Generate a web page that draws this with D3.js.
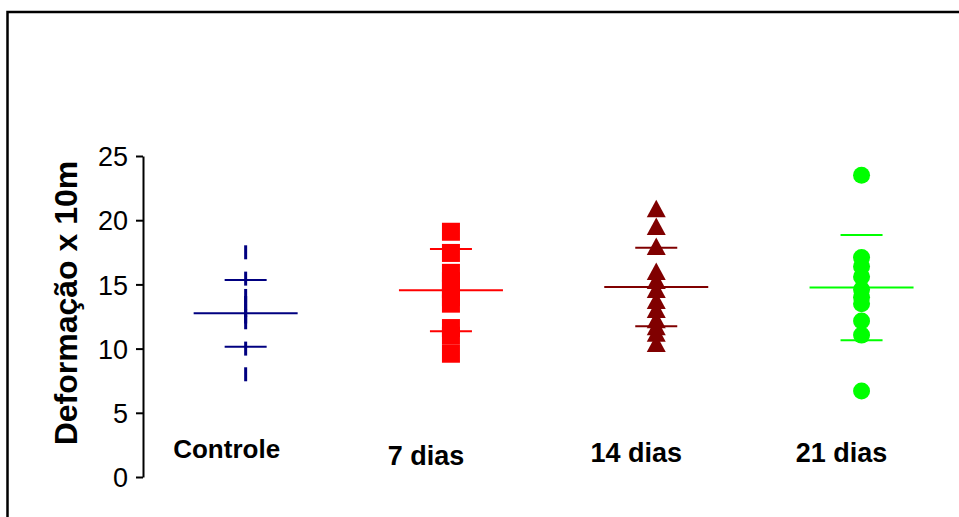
<!DOCTYPE html>
<html>
<head>
<meta charset="utf-8">
<script src="https://cdn.jsdelivr.net/npm/d3@7"></script>
<style>
  html, body { margin: 0; padding: 0; background: #fff; }
  svg { display: block; font-family: "Liberation Sans", Arial, sans-serif; }
</style>
</head>
<body>
<svg id="chart" width="959" height="517"></svg>
<script>
// Groups and their individual measurements (Deformação x 10m)
const categories = ["Controle", "7 dias", "14 dias", "21 dias"];
const controle = [17.5, 15.45, 14.1, 13.55, 13.0, 12.5, 12.05, 10.0, 8.0];
const dias7   = [19.1, 17.45, 15.9, 15.25, 14.65, 14.0, 13.5, 11.6, 11.0, 9.6];
const dias14  = [20.9, 19.5, 17.95, 16.0, 15.3, 14.6, 13.75, 13.05, 12.25, 11.7, 11.2, 10.4];
const dias21  = [23.5, 17.1, 16.4, 15.6, 14.6, 14.0, 13.5, 12.15, 11.05, 6.7];
const seriesValues = [controle, dias7, dias14, dias21];

// Group mean and standard deviation
const means = [12.75, 14.55, 14.8, 14.75];
const sds   = [2.6, 3.2, 3.05, 4.1];

const yTicks = [0, 5, 10, 15, 20, 25];

// Styling per group
const colors  = ["#000080", "#ff0000", "#800000", "#00ff00"];
const symbols = ["dash", "square", "triangle", "circle"];

const svg = d3.select("#chart");

// Outer frame
svg.append("rect")
  .attr("x", 7.5).attr("y", 12)
  .attr("width", 1000).attr("height", 600)
  .attr("fill", "none").attr("stroke", "#000").attr("stroke-width", 2.5);

const axisX = 143;
const y = d3.scaleLinear().domain([0, 25]).range([477, 156]);
const x = d3.scaleBand().domain(categories).range([axisX, axisX + 4 * 205.3]);

// Y axis
const yAxis = svg.append("g")
  .attr("transform", `translate(${axisX},0)`)
  .call(d3.axisLeft(y).tickValues(yTicks).tickSize(7).tickPadding(8).tickSizeOuter(0));
yAxis.select(".domain").attr("stroke", "#000").attr("stroke-width", 2);
yAxis.selectAll(".tick line").attr("stroke", "#000").attr("stroke-width", 2);
yAxis.selectAll(".tick text")
  .attr("fill", "#000")
  .style("font-size", "27px")
  .style("font-family", "'Liberation Sans', Arial, sans-serif")
  .attr("dy", "0.36em");

// Y axis title
svg.append("text")
  .attr("transform", "translate(77,303) rotate(-90)")
  .attr("text-anchor", "middle")
  .style("font-size", "32px")
  .style("font-weight", "bold")
  .text("Deformação x 10m");

// Category labels
const labelLayout = [
  { dx: -19, y: 458, size: 26 },
  { dx: -25, y: 465, size: 27 },
  { dx: -20, y: 462, size: 27 },
  { dx: -20, y: 462, size: 27 }
];
svg.append("g").selectAll("text")
  .data(categories)
  .join("text")
  .attr("x", (d, i) => x(d) + x.bandwidth() / 2 + labelLayout[i].dx)
  .attr("y", (d, i) => labelLayout[i].y)
  .attr("text-anchor", "middle")
  .style("font-size", (d, i) => labelLayout[i].size + "px")
  .style("font-weight", "bold")
  .text(d => d);

// Mean and SD lines
const meanHalf = 52, sdHalf = 21;
categories.forEach((c, i) => {
  const cx = x(c) + x.bandwidth() / 2;
  const g = svg.append("g").attr("stroke", colors[i]).attr("stroke-width", 2);
  g.append("line")
    .attr("x1", cx - meanHalf).attr("x2", cx + meanHalf)
    .attr("y1", y(means[i])).attr("y2", y(means[i]));
  [means[i] + sds[i], means[i] - sds[i]].forEach(v => {
    g.append("line")
      .attr("x1", cx - sdHalf).attr("x2", cx + sdHalf)
      .attr("y1", y(v)).attr("y2", y(v));
  });
});

// Individual points
categories.forEach((c, i) => {
  const cx = x(c) + x.bandwidth() / 2;
  const g = svg.append("g");
  const vals = seriesValues[i];
  if (symbols[i] === "dash") {
    g.selectAll("line").data(vals).join("line")
      .attr("x1", cx).attr("x2", cx)
      .attr("y1", d => y(d) - 7).attr("y2", d => y(d) + 7)
      .attr("stroke", colors[i]).attr("stroke-width", 3);
  } else if (symbols[i] === "square") {
    g.selectAll("rect").data(vals).join("rect")
      .attr("x", cx - 9).attr("y", d => y(d) - 9)
      .attr("width", 18).attr("height", 18)
      .attr("fill", colors[i]);
  } else if (symbols[i] === "triangle") {
    g.selectAll("path").data(vals).join("path")
      .attr("d", d => {
        const cy = y(d);
        return `M${cx},${cy - 9}L${cx + 9.5},${cy + 8.5}L${cx - 9.5},${cy + 8.5}Z`;
      })
      .attr("fill", colors[i]);
  } else {
    g.selectAll("circle").data(vals).join("circle")
      .attr("cx", cx).attr("cy", d => y(d)).attr("r", 8.5)
      .attr("fill", colors[i]);
  }
});
</script>
</body>
</html>
